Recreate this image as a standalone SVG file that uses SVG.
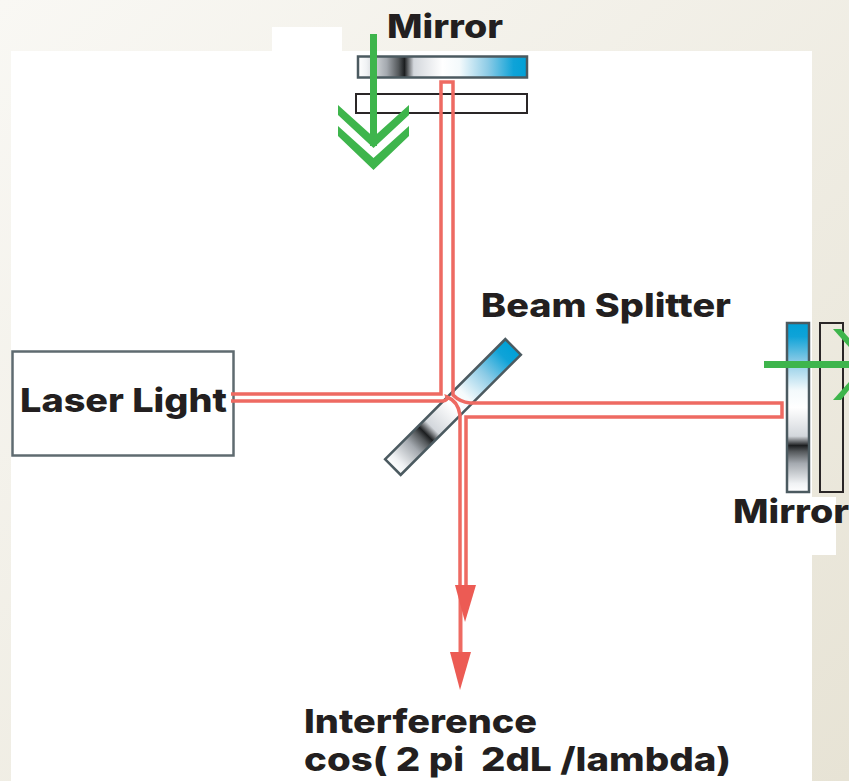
<svg xmlns="http://www.w3.org/2000/svg" width="849" height="781" viewBox="0 0 849 781">
<style>
text{font-family:"Inter","Liberation Sans",Arial,sans-serif;font-weight:800;font-size:33px;fill:#231f20}
.beam{fill:none;stroke:#ee6a62;stroke-width:3.500}
.ghost{fill:none;stroke:#2a2627;stroke-width:2}
.mirror{stroke:#4b5a60;stroke-width:2.500}
.green{fill:#3eb54c}
.tip{fill:#ec5b54}
</style>
<defs>
<linearGradient id="bg" x1="0" y1="0" x2="1" y2="1"><stop offset="0" stop-color="#f9f8f4"/><stop offset="1" stop-color="#e7e3d5"/></linearGradient>
<linearGradient id="mg" x1="0" y1="0" x2="1" y2="0">
<stop offset="0" stop-color="#fff"/><stop offset=".05" stop-color="#f0f2f4"/><stop offset=".17" stop-color="#a4a9af"/><stop offset=".24" stop-color="#54585b"/><stop offset=".275" stop-color="#1c1e20"/><stop offset=".33" stop-color="#d3d7dc"/><stop offset=".5" stop-color="#fff"/><stop offset=".6" stop-color="#f4fafc"/><stop offset=".77" stop-color="#8ccbe6"/><stop offset=".92" stop-color="#0fa3d8"/><stop offset="1" stop-color="#00a0d6"/></linearGradient>
<linearGradient id="mgv" x1="0" y1="1" x2="0" y2="0">
<stop offset="0" stop-color="#fff"/><stop offset=".05" stop-color="#f0f2f4"/><stop offset=".17" stop-color="#a4a9af"/><stop offset=".24" stop-color="#54585b"/><stop offset=".275" stop-color="#1c1e20"/><stop offset=".33" stop-color="#d3d7dc"/><stop offset=".5" stop-color="#fff"/><stop offset=".6" stop-color="#f4fafc"/><stop offset=".77" stop-color="#8ccbe6"/><stop offset=".92" stop-color="#0fa3d8"/><stop offset="1" stop-color="#00a0d6"/></linearGradient>
</defs>
<rect width="849" height="781" fill="url(#bg)"/>
<path d="M11 51H272V27H342V51H812V781H11Z" fill="#fff"/>
<rect x="812" y="497" width="24" height="58" fill="#fff"/>
<g id="mirror-top">
<rect class="ghost" x="356" y="94" width="171" height="19"/>
<rect class="mirror" x="358" y="56.500" width="169" height="21" fill="url(#mg)"/>
<text x="387" y="38" textLength="116" lengthAdjust="spacingAndGlyphs">Mirror</text>
</g>
<g id="mirror-right">
<rect class="ghost" x="820" y="323" width="23" height="169"/>
<rect class="mirror" x="787" y="323" width="22" height="169" fill="url(#mgv)"/>
<text x="733" y="523" textLength="116" lengthAdjust="spacingAndGlyphs">Mirror</text>
</g>
<g id="beam-splitter">
<rect class="mirror" transform="translate(453 407) rotate(-45)" x="-85" y="-11" width="170" height="22" fill="url(#mg)"/>
<text x="481" y="317" textLength="250" lengthAdjust="spacingAndGlyphs">Beam Splitter</text>
</g>
<g id="laser-light">
<rect x="12.500" y="351.500" width="221" height="104" fill="#fff" stroke="#5f6b70" stroke-width="2.500"/>
<text x="20" y="412" textLength="207" lengthAdjust="spacingAndGlyphs">Laser Light</text>
</g>
<g id="interference">
<text x="304" y="733" textLength="233" lengthAdjust="spacingAndGlyphs">Interference</text>
<text x="304" y="771" xml:space="preserve" textLength="427" lengthAdjust="spacingAndGlyphs">cos( 2 pi  2dL /lambda)</text>
</g>
<g id="connectors">
<path class="beam" d="M231 394H441V82H453V395Q460 402 470 403H782V417H466V590"/>
<path class="beam" d="M231 401H443Q448 400 447 397Q458 401 460 415V590"/>
<path d="M460.500 590V660" fill="none" stroke="#ee6a62" stroke-width="4"/>
<polygon class="tip" points="455,585 476,585 465,622"/>
<polygon class="tip" points="450,652 471,652 460,690"/>
<rect class="green" x="370" y="34" width="7" height="112"/>
<polygon class="green" points="338,105 373.500,137 409,105 409,115 373.500,148 338,115"/>
<polygon class="green" points="338,126 373.500,158 409,126 409,136 373.500,170 338,136"/>
<rect class="green" x="764" y="361" width="85" height="7"/>
<polygon class="green" points="833,329 841,329 849,338 849,347"/>
<polygon class="green" points="833,400 841,400 849,390 849,382"/>
</g>
</svg>
